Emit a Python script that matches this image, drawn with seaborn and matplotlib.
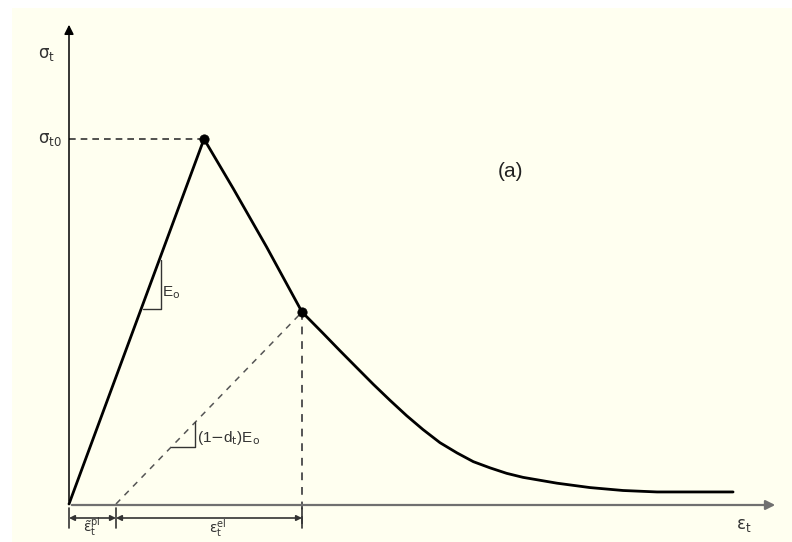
import matplotlib
matplotlib.use("Agg")
import matplotlib.pyplot as plt
import pandas as pd
import seaborn as sns

# tension stress-strain curve (normalised: peak at eps=1, sigma=1)
eps_curve = [0.0, 1.0, 1.217, 1.464, 1.726, 1.881, 2.007, 2.133, 2.254, 2.378,
             2.501, 2.622, 2.748, 2.874, 2.995, 3.119, 3.242, 3.363, 3.615,
             3.859, 4.104, 4.356, 4.919]
sig_curve = [0.0, 1.0, 0.864, 0.704, 0.526, 0.468, 0.420, 0.373, 0.328, 0.284,
             0.242, 0.204, 0.168, 0.140, 0.116, 0.099, 0.084, 0.073, 0.057,
             0.045, 0.037, 0.033, 0.033]

# marked points: peak and unloading point
eps_pts = [1.0, 1.726]
sig_pts = [1.0, 0.526]

# unloading line with damaged stiffness
eps_unload = [0.348, 1.726]
sig_unload = [0.0, 0.526]

# slope triangles
tri_e0_eps = [0.550, 0.679, 0.679]
tri_e0_sig = [0.534, 0.534, 0.668]
tri_ed_eps = [0.759, 0.933, 0.933]
tri_ed_sig = [0.157, 0.157, 0.225]

# dimension marks under the axis
dim_ticks = [0.0, 0.348, 1.726]

curve = pd.DataFrame({"eps": eps_curve, "sig": sig_curve})
pts = pd.DataFrame({"eps": eps_pts, "sig": sig_pts})

sns.set_style("white")
fig = plt.figure(figsize=(7.92, 5.42), dpi=100)
fig.patch.set_facecolor("white")
ax = fig.add_axes([12 / 792, 0, 780 / 792, 534 / 542])
ax.set_facecolor("#FFFFF0")
ax.set_xlim(-57 / 135, 723 / 135)
ax.set_ylim(-38 / 365, 496 / 365)
for s in ax.spines.values():
    s.set_visible(False)
ax.set_xticks([])
ax.set_yticks([])

# axes with arrows
ax.annotate("", xy=(0, 482 / 365), xytext=(0, 0),
            arrowprops=dict(arrowstyle="-|>", color="black", lw=1.1, mutation_scale=14))
ax.annotate("", xy=(709 / 135, -1 / 365), xytext=(0, -1 / 365),
            arrowprops=dict(arrowstyle="-|>", color="#707070", lw=1.6, mutation_scale=14))

# dashed helper lines
ax.plot([0, 1.0], [1.0, 1.0], ls=(0, (4, 3)), color="#333333", lw=1.2)
ax.plot([1.726, 1.726], [0.526, -0.06], ls=(0, (4, 3.5)), color="#555555", lw=1.4)
sns.lineplot(x=eps_unload, y=sig_unload, ax=ax, color="#555555", lw=1.1,
             linestyle=(0, (4, 4)), sort=False)

# main curve
sns.lineplot(data=curve, x="eps", y="sig", ax=ax, color="black", lw=2.0, sort=False)
sns.scatterplot(data=pts, x="eps", y="sig", ax=ax, color="black", s=45, zorder=5,
                edgecolor="black")

# slope triangles
ax.plot(tri_e0_eps, tri_e0_sig, color="#333333", lw=1.0)
ax.plot(tri_ed_eps, tri_ed_sig, color="#333333", lw=1.0)

# dimension line
dy = -14 / 365
for x in dim_ticks:
    ax.plot([x, x], [-4 / 365, -24 / 365], color="#333333", lw=1.2)
for a, b in zip(dim_ticks[:-1], dim_ticks[1:]):
    ax.annotate("", xy=(b, dy), xytext=(a, dy),
                arrowprops=dict(arrowstyle="<|-|>", color="#333333", lw=1.2,
                                mutation_scale=8, shrinkA=0, shrinkB=0))

ax.set_xlabel("")
ax.set_ylabel("")

fs = 12
ax.text(-0.17, 1.233, r"σ$_{\rm t}$", fontsize=fs, ha="center", va="center", color="#333333")
ax.text(-0.14, 1.0, r"σ$_{\rm t0}$", fontsize=fs, ha="center", va="center", color="#333333")
ax.text(0.69, 0.578, r"E$_{\rm o}$", fontsize=11, ha="left", va="center",
        family="Liberation Sans", color="#333333")
ax.text(0.95, 0.181, r"(1$-$d$_{\rm t}$)E$_{\rm o}$", fontsize=11, ha="left", va="center",
        family="Liberation Sans", color="#333333")
ax.text(3.267, 0.910, "(a)", fontsize=15, ha="center", va="center",
        family="Liberation Sans", color="#222222")
ax.text(5.0, -0.058, r"ε$_{\rm t}$", fontsize=fs, ha="center", va="center", color="#333333")
ax.text(0.17, -0.097, r"$\tilde{\mathrm{\varepsilon}}_{\rm t}^{\rm pl}$", fontsize=10,
        ha="center", va="bottom", color="#333333")
ax.text(1.10, -0.097, r"ε$_{\rm t}^{\rm el}$", fontsize=10, ha="center", va="bottom",
        color="#333333")

fig.savefig("out.png", dpi=100, facecolor=fig.get_facecolor())
